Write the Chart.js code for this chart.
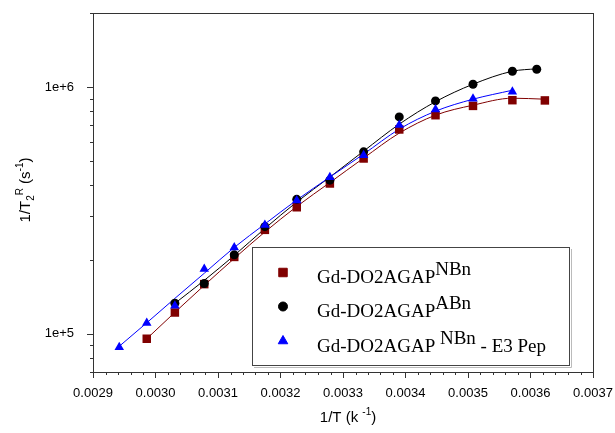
<!DOCTYPE html>
<html>
<head>
<meta charset="utf-8">
<script src="https://cdn.jsdelivr.net/npm/chart.js@4.4.0/dist/chart.umd.min.js"></script>
<style>
  html, body { margin: 0; padding: 0; background: #fff; }
  #wrap { width: 615px; height: 433px; }
</style>
</head>
<body>
<div id="wrap"><canvas id="chart" width="615" height="433"></canvas></div>
<script>
"use strict";

const xNBn = [0.002986, 0.003031, 0.003078, 0.003126, 0.003175, 0.003226, 0.003279, 0.003333, 0.003390, 0.003448, 0.003508, 0.003571, 0.003623];
const yNBn = [95500, 122000, 159000, 205000, 264000, 326000, 407000, 514000, 674000, 770000, 840000, 886000, 884000];
const fitNBn = [95500, 122200, 157200, 202100, 258800, 328300, 410600, 515900, 651500, 770300, 845600, 902600, 894200];

const xABn = [0.003031, 0.003078, 0.003126, 0.003175, 0.003226, 0.003279, 0.003333, 0.003390, 0.003448, 0.003508, 0.003571, 0.003610];
const yABn = [133000, 160000, 209000, 272000, 351000, 420000, 547000, 758000, 880000, 1028000, 1161000, 1183000];
const fitABn = [132900, 164700, 207900, 267400, 342300, 432200, 550700, 708300, 873600, 1028400, 1161000, 1188400];

const xPep = [0.002942, 0.002986, 0.003031, 0.003078, 0.003126, 0.003175, 0.003226, 0.003279, 0.003333, 0.003390, 0.003448, 0.003508, 0.003571];
const yPep = [88200, 110500, 130000, 183000, 224000, 276000, 347000, 431000, 530000, 702000, 812000, 898000, 958000];
const fitPep = [89000, 110800, 139200, 176000, 224000, 278800, 348800, 432200, 535500, 676100, 799500, 894200, 972400];

// axis ticks
const xMajor = [0.0029, 0.0030, 0.0031, 0.0032, 0.0033, 0.0034, 0.0035, 0.0036, 0.0037];
const xMinorStep = 0.00002;
const yMajor = [1e5, 1e6];
const yMinor = [7e4, 8e4, 9e4, 2e5, 3e5, 4e5, 5e5, 6e5, 7e5, 8e5, 9e5, 2e6];

const legendLabels = [
    { main: 'Gd-DO2AGAP', sup: 'NBn', tail: '' },
    { main: 'Gd-DO2AGAP', sup: 'ABn', tail: '' },
    { main: 'Gd-DO2AGAP ', sup: 'NBn', tail: ' - E3 Pep' }
];

const zip = (xs, ys) => xs.map((v, i) => ({ x: v, y: ys[i] }));

const SANS = '"Liberation Sans", Arial, sans-serif';
const SERIF = '"Liberation Serif", "Times New Roman", serif';

// draws a run of text pieces, each with its own size and vertical shift
function drawRich(ctx, parts, x, y, font) {
    let cx = x;
    parts.forEach(p => {
        ctx.font = p.size + 'px ' + font;
        ctx.fillText(p.t, cx, y + (p.dy || 0));
        cx += ctx.measureText(p.t).width;
    });
    return cx - x;
}

function richWidth(ctx, parts, font) {
    let w = 0;
    parts.forEach(p => {
        ctx.font = p.size + 'px ' + font;
        w += ctx.measureText(p.t).width;
    });
    return w;
}

const decor = {
    id: 'decor',
    afterDraw(chart) {
        const { ctx, chartArea: a, scales: { x, y } } = chart;
        ctx.save();
        ctx.strokeStyle = '#333';
        ctx.lineWidth = 1;

        // frame
        ctx.strokeRect(a.left + 0.5, a.top + 0.5, a.right - a.left, a.bottom - a.top);

        // x ticks (outward)
        ctx.beginPath();
        for (let k = 0; k <= 40; k++) {
            const v = 0.0029 + k * xMinorStep;
            const px = Math.round(x.getPixelForValue(v)) + 0.5;
            const len = (k % 5 === 0) ? 6 : 3;
            ctx.moveTo(px, a.bottom);
            ctx.lineTo(px, a.bottom + len);
        }
        // y ticks (outward)
        yMajor.concat(yMinor).forEach(v => {
            const py = Math.round(y.getPixelForValue(v)) + 0.5;
            const len = yMajor.includes(v) ? 6 : 3;
            ctx.moveTo(a.left, py);
            ctx.lineTo(a.left - len, py);
        });
        ctx.stroke();

        // axis titles
        ctx.fillStyle = '#000';
        ctx.textBaseline = 'alphabetic';
        const xt = [
            { t: '1/T (k ', size: 15 },
            { t: '-1', size: 10, dy: -7 },
            { t: ')', size: 15 }
        ];
        const xw = richWidth(ctx, xt, SANS);
        drawRich(ctx, xt, 348 - xw / 2, 422, SANS);

        const yt = [
            { t: '1/T', size: 15 },
            { t: '2', size: 10, dy: 4 },
            { t: 'R', size: 10, dy: -7 },
            { t: ' (s', size: 15 },
            { t: '-1', size: 10, dy: -7 },
            { t: ')', size: 15 }
        ];
        const yw = richWidth(ctx, yt, SANS);
        ctx.save();
        ctx.translate(30, 190);
        ctx.rotate(-Math.PI / 2);
        drawRich(ctx, yt, -yw / 2, 0, SANS);
        ctx.restore();

        // legend box
        ctx.fillStyle = '#fff';
        ctx.fillRect(252, 247, 318, 119);
        ctx.strokeStyle = '#444';
        ctx.strokeRect(252.5, 247.5, 317, 118);
        ctx.strokeStyle = '#bbb';
        ctx.beginPath();
        ctx.moveTo(571.5, 249); ctx.lineTo(571.5, 367.5); ctx.lineTo(254, 367.5);
        ctx.stroke();

        const rowBase = [283, 317, 351.5];
        [0, 1, 2].forEach((di, i) => {
            const ds = chart.data.datasets[di];
            ctx.fillStyle = ds.pointBackgroundColor;
            ctx.strokeStyle = ds.pointBorderColor;
            ctx.lineWidth = 1;
            Chart.helpers.drawPoint(ctx, {
                pointStyle: ds.pointStyle,
                radius: ds.pointRadius,
                borderWidth: 1,
                rotation: 0
            }, 283, rowBase[i] - 10.5);
            ctx.fillStyle = '#000';
            const lab = legendLabels[i];
            drawRich(ctx, [
                { t: lab.main, size: 19 },
                { t: lab.sup, size: 19, dy: -8 },
                { t: lab.tail, size: 19 }
            ], 317, rowBase[i], SERIF);
        });
        ctx.restore();
    }
};

function marks(label, xs, ys, color, style, radius, order) {
    return {
        label: label,
        data: zip(xs, ys),
        showLine: false,
        pointStyle: style,
        pointRadius: radius,
        pointBackgroundColor: color,
        pointBorderColor: color,
        pointBorderWidth: 0,
        order: order
    };
}

function fitLine(label, xs, ys, color, order) {
    return {
        label: label,
        data: zip(xs, ys),
        showLine: true,
        cubicInterpolationMode: 'monotone',
        borderColor: color,
        borderWidth: 1,
        pointRadius: 0,
        order: order
    };
}

new Chart(document.getElementById('chart'), {
    type: 'scatter',
    data: {
        datasets: [
            marks('Gd-DO2AGAP NBn', xNBn, yNBn, '#800000', 'rect', 6, 3),
            marks('Gd-DO2AGAP ABn', xABn, yABn, '#000000', 'circle', 4.5, 2),
            marks('Gd-DO2AGAP NBn - E3 Pep', xPep, yPep, '#0000ff', 'triangle', 5.5, 1),
            fitLine('fit NBn', xNBn, fitNBn, '#800000', 6),
            fitLine('fit ABn', xABn, fitABn, '#000000', 5),
            fitLine('fit NBn - E3 Pep', xPep, fitPep, '#0000ff', 4)
        ]
    },
    options: {
        responsive: false,
        animation: false,
        events: [],
        layout: { padding: { top: 13, right: 22, left: 0, bottom: 0 } },
        plugins: {
            legend: { display: false },
            tooltip: { enabled: false }
        },
        scales: {
            x: {
                type: 'linear',
                min: 0.0029,
                max: 0.0037,
                grid: { display: false },
                border: { display: false },
                afterBuildTicks: s => { s.ticks = xMajor.map(v => ({ value: v })); },
                afterFit: s => {
                    s.height = 61;
                    s.paddingLeft = 0; s.paddingRight = 0;
                },
                ticks: {
                    padding: 6,
                    color: '#000',
                    font: { family: SANS, size: 13 },
                    maxRotation: 0,
                    callback: v => Number(v).toFixed(4)
                }
            },
            y: {
                type: 'logarithmic',
                min: 7e4,
                max: 2e6,
                grid: { display: false },
                border: { display: false },
                afterBuildTicks: s => { s.ticks = yMajor.map(v => ({ value: v })); },
                afterFit: s => {
                    s.width = 93;
                    s.paddingTop = 0; s.paddingBottom = 0;
                },
                ticks: {
                    padding: 11,
                    color: '#000',
                    font: { family: SANS, size: 13 },
                    callback: v => Number(v).toExponential(0)
                }
            }
        }
    },
    plugins: [decor]
});
</script>
</body>
</html>
